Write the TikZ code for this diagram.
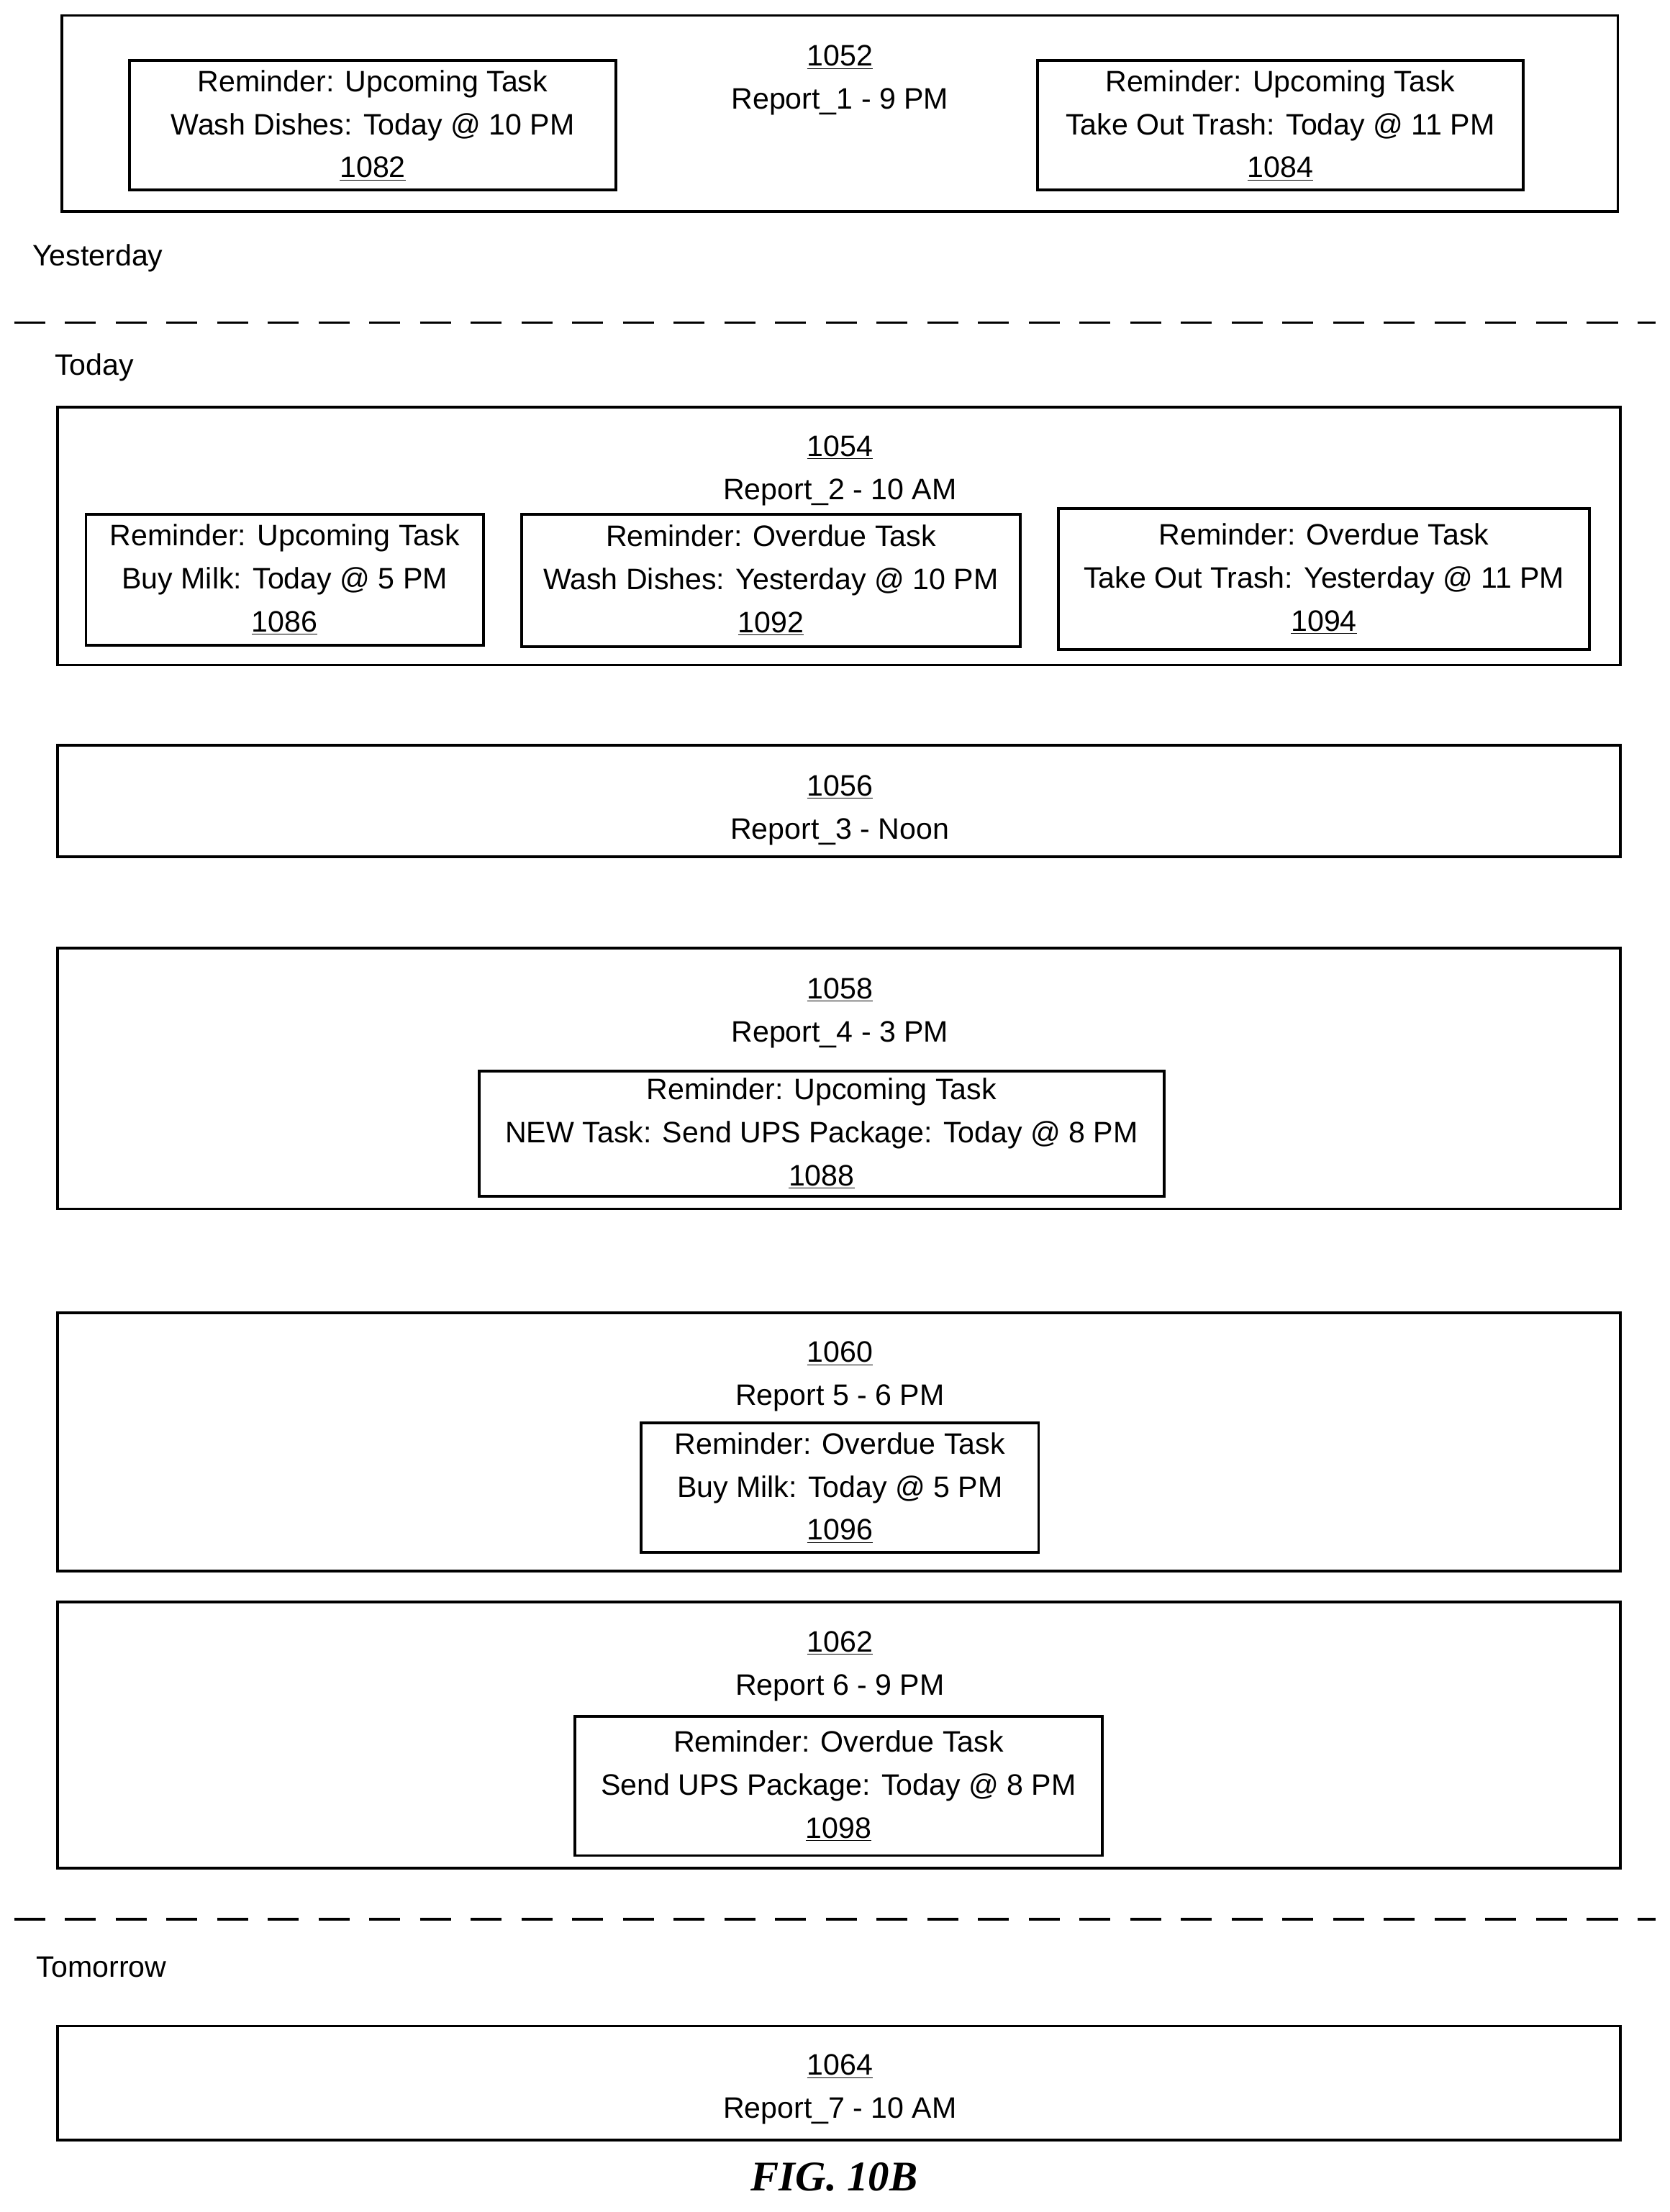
\documentclass[tikz,border=0pt]{standalone}
\usepackage{fontspec}
\setmainfont{Liberation Sans}
\newfontfamily\figfont{Liberation Serif}
\usetikzlibrary{positioning}

\begin{document}
\begin{tikzpicture}[x=1pt,y=-1pt,line width=2pt,
  panel/.style={draw,inner sep=0pt},
  card/.style={draw,inner sep=0pt,align=center,font=\fontsize{21}{30.5}\selectfont},
  txt/.style={inner sep=0pt,align=center,font=\fontsize{21}{30.5}\selectfont},
  day/.style={inner sep=0pt,anchor=west,font=\fontsize{21}{25}\selectfont},
  sep/.style={dash pattern=on 22pt off 14pt}]
  \useasboundingbox (0,0) rectangle (1185,1570);
  % yesterday
  \node[panel,minimum width=1104pt,minimum height=139pt] (r1052) at (596,80.5) {};
  \node[txt] (t1052) at (596,57) {\underline{1052}\\Report\_1 - 9 PM};
  \node[card,minimum width=345pt,minimum height=92pt] (c1082) at (264.5,89) {Reminder: Upcoming Task\\Wash Dishes: Today @ 10 PM\\\underline{1082}};
  \node[card,minimum width=345pt,minimum height=92pt] (c1084) at (908.5,89) {Reminder: Upcoming Task\\Take Out Trash: Today @ 11 PM\\\underline{1084}};
  \node[day] (yday) at (22,183) {Yesterday};
  \coordinate (s1l) at (10,229); \coordinate (s1r) at (1175,229);
  \draw[sep] (s1l) -- (s1r);
  % today
  \node[day] (tday) at (38,261) {Today};
  \node[panel,minimum width=1109pt,minimum height=183pt] (r1054) at (595.5,380.5) {};
  \node[txt] (t1054) at (596,334) {\underline{1054}\\Report\_2 - 10 AM};
  \node[card,minimum width=282pt,minimum height=93pt] (c1086) at (202,411.5) {Reminder: Upcoming Task\\Buy Milk: Today @ 5 PM\\\underline{1086}};
  \node[card,minimum width=354pt,minimum height=94pt] (c1092) at (547,412) {Reminder: Overdue Task\\Wash Dishes: Yesterday @ 10 PM\\\underline{1092}};
  \node[card,minimum width=377pt,minimum height=100pt] (c1094) at (939.5,411) {Reminder: Overdue Task\\Take Out Trash: Yesterday @ 11 PM\\\underline{1094}};
  \node[panel,minimum width=1109pt,minimum height=79pt] (r1056) at (595.5,568.5) {};
  \node[txt] (t1056) at (596,575) {\underline{1056}\\Report\_3 - Noon};
  \node[panel,minimum width=1109pt,minimum height=185pt] (r1058) at (595.5,765.5) {};
  \node[txt] (t1058) at (596,719) {\underline{1058}\\Report\_4 - 3 PM};
  \node[card,minimum width=486pt,minimum height=89pt] (c1088) at (583,804.5) {Reminder: Upcoming Task\\NEW Task: Send UPS Package: Today @ 8 PM\\\underline{1088}};
  \node[panel,minimum width=1109pt,minimum height=183pt] (r1060) at (595.5,1023.5) {};
  \node[txt] (t1060) at (596,977) {\underline{1060}\\Report 5 - 6 PM};
  \node[card,minimum width=282pt,minimum height=92pt] (c1096) at (596,1056) {Reminder: Overdue Task\\Buy Milk: Today @ 5 PM\\\underline{1096}};
  \node[panel,minimum width=1109pt,minimum height=189pt] (r1062) at (595.5,1231.5) {};
  \node[txt] (t1062) at (596,1182.5) {\underline{1062}\\Report 6 - 9 PM};
  \node[card,minimum width=374pt,minimum height=99pt] (c1098) at (595,1267.5) {Reminder: Overdue Task\\Send UPS Package: Today @ 8 PM\\\underline{1098}};
  \coordinate (s2l) at (10,1362); \coordinate (s2r) at (1175,1362);
  \draw[sep] (s2l) -- (s2r);
  % tomorrow
  \node[day] (tmrw) at (25,1396) {Tomorrow};
  \node[panel,minimum width=1109pt,minimum height=81pt] (r1064) at (595.5,1478.5) {};
  \node[txt] (t1064) at (596,1483) {\underline{1064}\\Report\_7 - 10 AM};
  \node[inner sep=0pt,font=\fontsize{30}{32}\selectfont\figfont\bfseries\itshape] (fig) at (592,1545) {FIG. 10B};
\end{tikzpicture}
\end{document}
